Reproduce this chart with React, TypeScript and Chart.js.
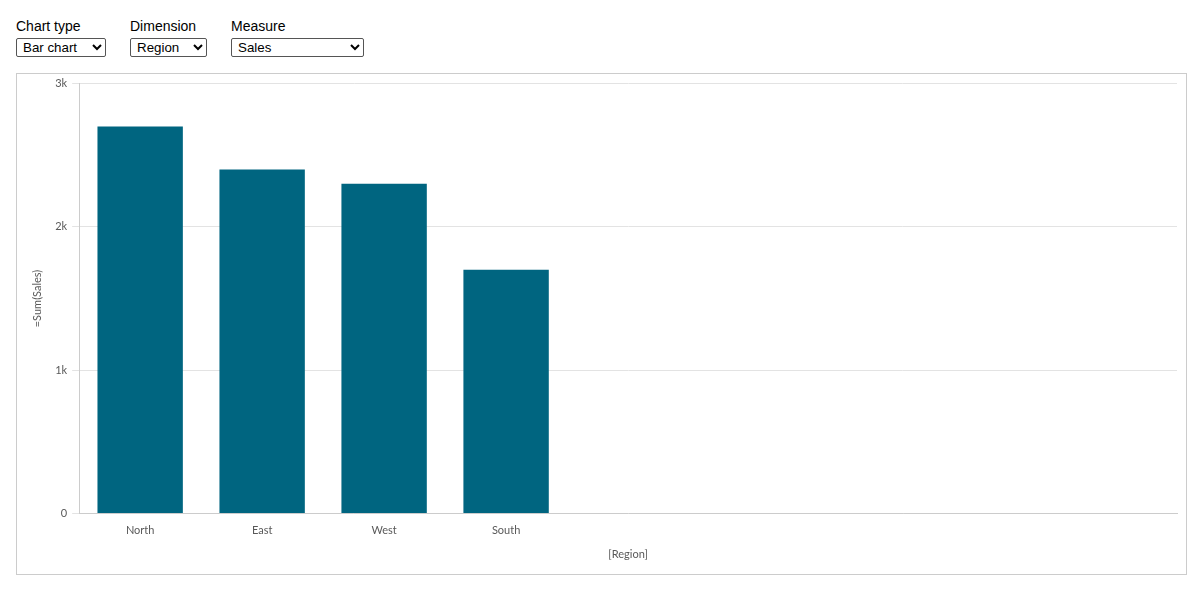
import { useEffect, useRef } from "react";
import { Chart, registerables } from "chart.js";

Chart.register(...registerables);

// Data
const regions = ["North", "East", "West", "South"];
const sales = [2700, 2400, 2300, 1700];
const yTicks = [0, 1000, 2000, 3000];
const yTickLabels = ["0", "1k", "2k", "3k"];
// the chart keeps room for more regions than it has
const slotCount = 9;

const chartTypes = ["Bar chart", "Line chart", "Pie chart"];
const dimensions = ["Region", "Product", "Year"];
const measures = ["Sales", "Quantity", "Margin"];

const chartFont = "Lato, 'Noto Sans', sans-serif";
const uiFont = "'Liberation Sans', Arial, sans-serif";

const SalesChart = () => {
  const chartRef = useRef<HTMLCanvasElement>(null);
  const chartInstance = useRef<Chart | null>(null);

  useEffect(() => {
    if (!chartRef.current) return;
    const labels = regions.concat(Array(slotCount - regions.length).fill(""));

    const config: any = {
      type: "bar",
      data: {
        labels,
        datasets: [
          {
            label: "=Sum(Sales)",
            data: sales,
            backgroundColor: "#006580",
            borderWidth: 0,
            barPercentage: 0.7,
            categoryPercentage: 1,
          },
        ],
      },
      options: {
        responsive: true,
        maintainAspectRatio: false,
        animation: false,
        layout: { padding: { left: 14, right: 9, top: 9, bottom: 13 } },
        plugins: {
          legend: { display: false },
          tooltip: { enabled: false },
        },
        scales: {
          x: {
            grid: { display: false, drawTicks: false },
            border: { display: true, color: "#cccccc", width: 1 },
            ticks: {
              color: "#595959",
              font: { family: chartFont, size: 11 },
              padding: 10,
              maxRotation: 0,
              autoSkip: false,
            },
            title: {
              display: true,
              text: "[Region]",
              color: "#595959",
              font: { family: chartFont, size: 11 },
              padding: { top: 1, bottom: 0 },
            },
          },
          y: {
            min: 0,
            max: 3000,
            afterBuildTicks: (axis: any) => {
              axis.ticks = yTicks.map((v) => ({ value: v }));
            },
            grid: { color: "#e3e3e3", tickLength: 7, lineWidth: 1 },
            border: { display: true, color: "#cccccc", width: 1 },
            ticks: {
              color: "#595959",
              font: { family: chartFont, size: 11, lineHeight: 0.8 },
              padding: 5,
              callback: (value: number) => {
                const i = yTicks.indexOf(value);
                return i >= 0 ? yTickLabels[i] : "";
              },
            },
            title: {
              display: true,
              text: "=Sum(Sales)",
              color: "#595959",
              font: { family: chartFont, size: 11 },
              padding: { top: 0, bottom: 6 },
            },
          },
        },
      },
    };

    if (chartInstance.current) {
      chartInstance.current.destroy();
    }
    chartInstance.current = new Chart(chartRef.current, config);

    return () => {
      if (chartInstance.current) {
        chartInstance.current.destroy();
        chartInstance.current = null;
      }
    };
  }, []);

  return <canvas ref={chartRef} />;
};

const Picker = ({
  label,
  options,
  left,
  width,
}: {
  label: string;
  options: string[];
  left: number;
  width: number;
}) => (
  <>
    <div
      style={{
        position: "absolute",
        left,
        top: 18,
        fontFamily: uiFont,
        fontSize: 14,
        lineHeight: "16px",
        color: "#000",
        whiteSpace: "nowrap",
      }}
    >
      {label}
    </div>
    <select
      defaultValue={options[0]}
      style={{
        position: "absolute",
        left,
        top: 38,
        width,
        height: 19,
        fontFamily: uiFont,
        fontSize: 13.33,
        padding: "0 2px",
        margin: 0,
        boxSizing: "border-box",
        border: "1px solid #555",
        borderRadius: 2,
        background: "#fff",
        color: "#000",
      }}
    >
      {options.map((o) => (
        <option key={o}>{o}</option>
      ))}
    </select>
  </>
);

export default function App() {
  return (
    <div
      style={{
        position: "absolute",
        left: 0,
        top: 0,
        width: 1198,
        height: 590,
        background: "#fff",
      }}
    >
      <Picker label="Chart type" options={chartTypes} left={16} width={90} />
      <Picker label="Dimension" options={dimensions} left={130} width={77} />
      <Picker label="Measure" options={measures} left={231} width={133} />
      <div
        style={{
          position: "absolute",
          left: 16,
          top: 73,
          width: 1171,
          height: 502,
          boxSizing: "border-box",
          border: "1px solid #cccccc",
        }}
      >
        <div style={{ position: "relative", width: 1169, height: 500 }}>
          <SalesChart />
        </div>
      </div>
    </div>
  );
}
